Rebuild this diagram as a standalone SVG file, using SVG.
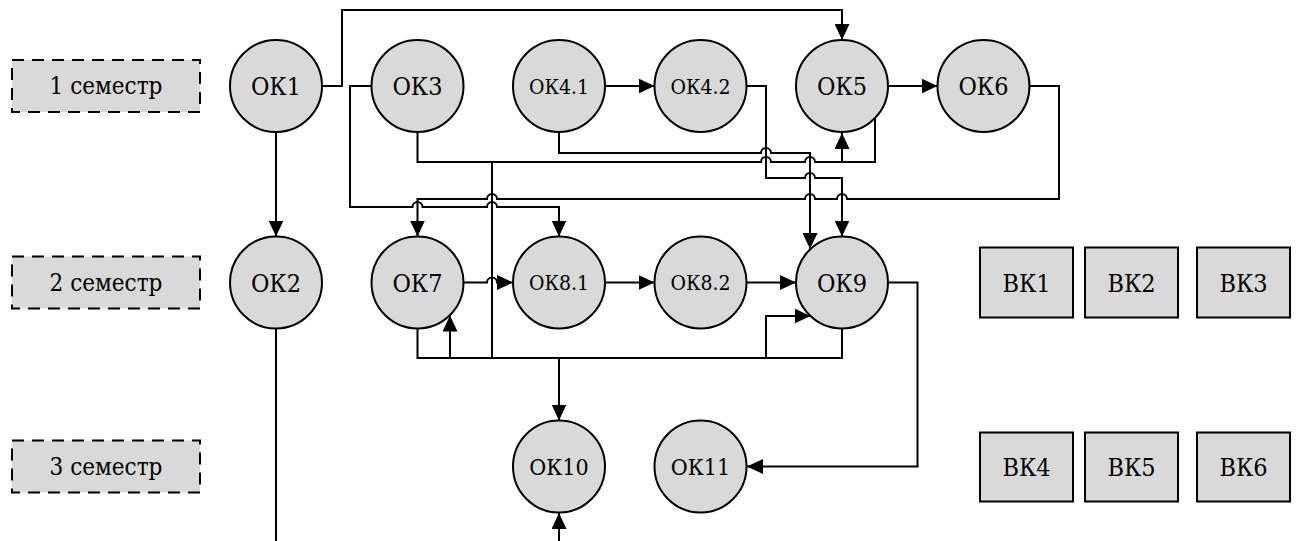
<svg xmlns="http://www.w3.org/2000/svg" width="1296" height="541" viewBox="0 0 1296 541">
<style>
.sem{fill:#d9d9d9;stroke:#000;stroke-width:2;stroke-dasharray:12 8}
.ok{fill:#d9d9d9;stroke:#000;stroke-width:2}
.vk{fill:#d9d9d9;stroke:#000;stroke-width:2}
text{fill:#000;text-anchor:middle;font-family:'DejaVu Serif Condensed','DejaVu Serif','Liberation Serif',serif;font-stretch:condensed}
.ts{font-size:24px}
.t26{font-size:25px}
.t22{font-size:21px}
.t24{font-size:23px}
.c{fill:none;stroke:#000;stroke-width:2}
.a{marker-end:url(#arr)}
</style>
<defs>
<marker id="arr" markerUnits="userSpaceOnUse" markerWidth="16" markerHeight="15" viewBox="0 0 16 15" refX="16" refY="7.5" orient="auto">
<path d="M0,0 L16,7.5 L0,15 z" fill="#000"/>
</marker>
</defs>
<g id="sem1"><rect class="sem" x="12" y="60" width="188" height="52"/><text class="ts" x="106" y="94">1 семестр</text></g>
<g id="sem2"><rect class="sem" x="12" y="256.5" width="188" height="52"/><text class="ts" x="106" y="291">2 семестр</text></g>
<g id="sem3"><rect class="sem" x="12" y="440.5" width="188" height="52"/><text class="ts" x="106" y="475">3 семестр</text></g>
<g id="connectors">
<path class="c a" d="M322,86 H342 V10 H842 V40"/>
<path class="c a" d="M276,132 V236.5"/>
<path class="c" d="M276,328.5 V541"/>
<path class="c a" d="M559,541 V513"/>
<path class="c a" d="M605.5,86 H654.5"/>
<path class="c a" d="M888,86 H937.5"/>
<path class="c a" d="M371,86 H350 V207 H412.5 A5,5 0 0 1 422.5,207 H487 A5,5 0 0 1 497,207 H559 V236.5"/>
<path class="c a" d="M1030,86 H1059 V199 H847 A5,5 0 0 0 837,199 H815 A5,5 0 0 0 805,199 H497 A5,5 0 0 0 487,199 H417.5 V236.5"/>
<path class="c a" d="M559,132.5 V153 H761 A5,5 0 0 1 771,153 H810 V249"/>
<path class="c" d="M417.5,132.5 V162 H761 A5,5 0 0 1 771,162 H805 A5,5 0 0 1 815,162 H875 V118"/>
<path class="c a" d="M842,162 V133"/>
<path class="c" d="M492,162 V358"/>
<path class="c a" d="M747,86 H766 V178 H805 A5,5 0 0 1 815,178 H842 V236.5"/>
<path class="c a" d="M463.5,282.5 H487 A5,5 0 0 1 497,282.5 H513"/>
<path class="c a" d="M605,282.5 H654.5"/>
<path class="c a" d="M747,282.5 H796"/>
<path class="c a" d="M888,282.5 H917.5 V466.5 H747"/>
<path class="c" d="M417.5,328.5 V358 H842 V328.5"/>
<path class="c a" d="M450,358 V315.5"/>
<path class="c a" d="M559,358 V420.5"/>
<path class="c a" d="M766,358 V316 H810.5"/>
</g>
<g id="OK1"><circle class="ok" cx="276" cy="86" r="46"/><text class="t26" x="276" y="95">ОК1</text></g>
<g id="OK3"><circle class="ok" cx="417.5" cy="86" r="46"/><text class="t26" x="417.5" y="95">ОК3</text></g>
<g id="OK4.1"><circle class="ok" cx="559" cy="86" r="46"/><text class="t22" x="559" y="93.5">ОК4.1</text></g>
<g id="OK4.2"><circle class="ok" cx="700.5" cy="86" r="46"/><text class="t22" x="700.5" y="93.5">ОК4.2</text></g>
<g id="OK5"><circle class="ok" cx="842" cy="86" r="46"/><text class="t26" x="842" y="95">ОК5</text></g>
<g id="OK6"><circle class="ok" cx="983.5" cy="86" r="46"/><text class="t26" x="983.5" y="95">ОК6</text></g>
<g id="OK2"><circle class="ok" cx="276" cy="282.5" r="46"/><text class="t26" x="276" y="291.5">ОК2</text></g>
<g id="OK7"><circle class="ok" cx="417.5" cy="282.5" r="46"/><text class="t26" x="417.5" y="291.5">ОК7</text></g>
<g id="OK8.1"><circle class="ok" cx="559" cy="282.5" r="46"/><text class="t22" x="559" y="290">ОК8.1</text></g>
<g id="OK8.2"><circle class="ok" cx="700.5" cy="282.5" r="46"/><text class="t22" x="700.5" y="290">ОК8.2</text></g>
<g id="OK9"><circle class="ok" cx="842" cy="282.5" r="46"/><text class="t26" x="842" y="291.5">ОК9</text></g>
<g id="OK10"><circle class="ok" cx="559" cy="466.5" r="46"/><text class="t24" x="559" y="474.5">ОК10</text></g>
<g id="OK11"><circle class="ok" cx="700.5" cy="466.5" r="46"/><text class="t24" x="700.5" y="474.5">ОК11</text></g>
<g id="VK1"><rect class="vk" x="980" y="247.5" width="93" height="70"/><text class="t26" x="1026.5" y="291.5">ВК1</text></g>
<g id="VK2"><rect class="vk" x="1085" y="247.5" width="93" height="70"/><text class="t26" x="1131.5" y="291.5">ВК2</text></g>
<g id="VK3"><rect class="vk" x="1197" y="247.5" width="93" height="70"/><text class="t26" x="1243.5" y="291.5">ВК3</text></g>
<g id="VK4"><rect class="vk" x="980" y="432.5" width="93" height="69"/><text class="t26" x="1026.5" y="476">ВК4</text></g>
<g id="VK5"><rect class="vk" x="1085" y="432.5" width="93" height="69"/><text class="t26" x="1131.5" y="476">ВК5</text></g>
<g id="VK6"><rect class="vk" x="1197" y="432.5" width="93" height="69"/><text class="t26" x="1243.5" y="476">ВК6</text></g>
</svg>
